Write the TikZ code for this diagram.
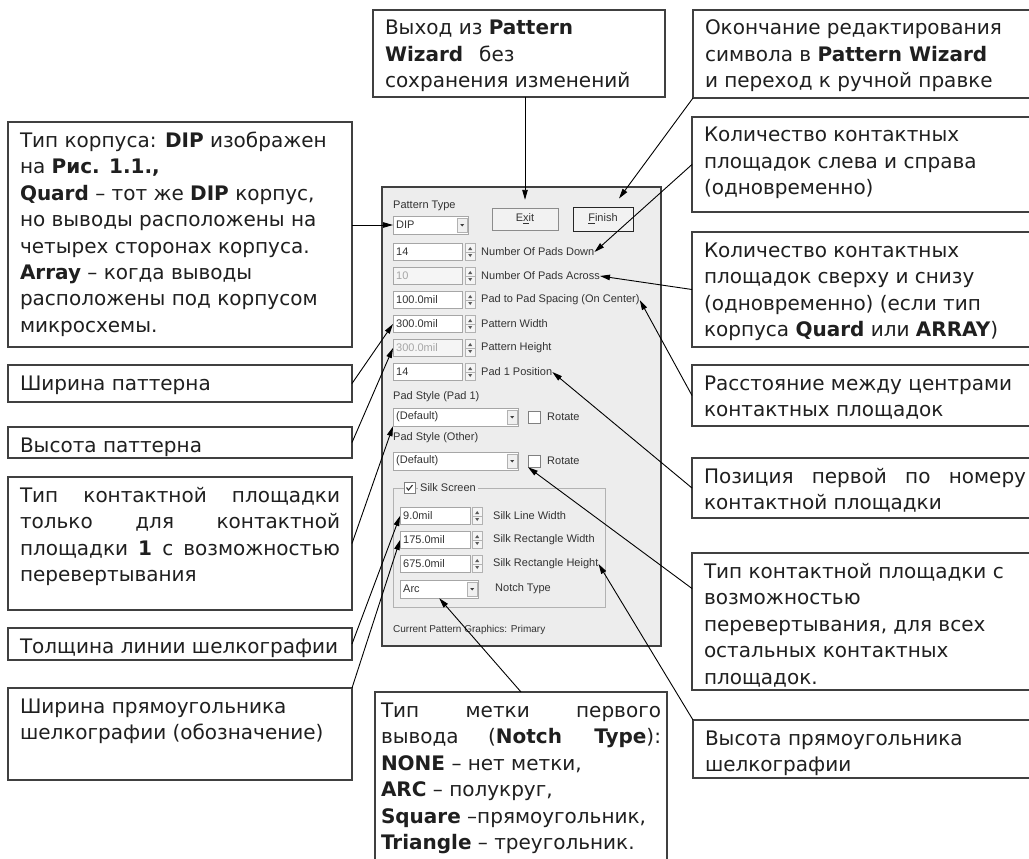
\documentclass[tikz,border=0pt]{standalone}
\usepackage{fontspec}
\newfontfamily\notefont{DejaVu Sans}
\newfontfamily\dlgfont{Liberation Sans}
\usetikzlibrary{arrows.meta}
\tikzset{>/.tip={Triangle[length=10pt,width=5.5pt]}}
\newcommand{\notetext}[3]{\parbox[t][#2][t]{#1}{\raggedright\rule{0pt}{25pt}#3}}
\newcommand{\fillline}[1]{\makebox[\linewidth][s]{#1}}
\tikzset{
  note/.style={draw=black!75, line width=2.2pt, fill=white, anchor=north west,
    inner xsep=12pt, inner ysep=0pt, outer sep=0pt, text=black!88,
    font=\notefont\fontsize{20}{26.5}\selectfont},
  dlg/.style={font=\dlgfont\fontsize{11}{12}\selectfont, text=black!80, inner sep=0pt, anchor=west},
  field/.style={dlg, draw=black!35, fill=white, minimum height=17pt, text width=#1,
    inner xsep=3pt, align=left},
  disabled/.style={fill=black!4, text=black!35},
  combo/.style={field=#1, minimum height=18pt, path picture={
    \filldraw[draw=black!30, fill=black!6] ([xshift=-11pt,yshift=-7pt]path picture bounding box.east)
      rectangle ([xshift=-1pt,yshift=7pt]path picture bounding box.east);
    \fill[black!75] ([xshift=-8pt,yshift=1pt]path picture bounding box.east) -- ++(4pt,0pt) -- ++(-2pt,-2.5pt) -- cycle;}},
  spin/.style={draw=black!30, fill=black!4, minimum width=10pt, minimum height=17pt,
    inner sep=0pt, anchor=west, path picture={
    \draw[black!30] (path picture bounding box.west) -- (path picture bounding box.east);
    \fill[black!65] ([xshift=-2pt,yshift=2pt]path picture bounding box.center) -- ++(4pt,0pt) -- ++(-2pt,3pt) -- cycle;
    \fill[black!65] ([xshift=-2pt,yshift=-2pt]path picture bounding box.center) -- ++(4pt,0pt) -- ++(-2pt,-3pt) -- cycle;}},
  chk/.style={draw=black!50, fill=white, minimum size=12pt, inner sep=0pt, anchor=west},
  btn/.style={dlg, anchor=center, draw=black!45, fill=black!5, minimum width=66pt, minimum height=22pt},
  callout/.style={->, line width=0.9pt, black}
}

\begin{document}
\begin{tikzpicture}[x=1pt, y=-1pt]
\useasboundingbox (0,0) rectangle (1029,859);
\clip (0,0) rectangle (1029,859);
\fill[white] (0,0) rectangle (1029,859);

% dialog window
\fill[black!7] (382,187) rectangle (661,646);
\draw[black!75, line width=2.2pt] (382,187) rectangle (661,646);

\node[dlg] (lblType) at (393,206) {Pattern Type};
\node[combo=69pt] (dipbox) at (393,225) {DIP};
\node[btn] (exitbtn) at (525,219) {E\underline{x}it};
\node[btn, minimum width=60pt, minimum height=24pt, draw=black!85, line width=1pt] (finbtn) at (603,219) {\underline{F}inish};

\node[field=63pt] (fDown) at (393,252) {14};
\node[spin] (sDown) at (465,252) {};
\node[dlg] (lblDown) at (481,252) {Number Of Pads Down};
\node[field=63pt, disabled] (fAcross) at (393,276) {10};
\node[spin] (sAcross) at (465,276) {};
\node[dlg] (lblAcross) at (481,276) {Number Of Pads Across};
\node[field=63pt] (fSpace) at (393,300) {100.0mil};
\node[spin] (sSpace) at (465,300) {};
\node[dlg] (lblSpacing) at (481,300) {Pad to Pad Spacing (On Center)};
\node[field=63pt] (fW) at (393,324) {300.0mil};
\node[spin] (sW) at (465,324) {};
\node[dlg] (lblW) at (481,324) {Pattern Width};
\node[field=63pt, disabled] (fH) at (393,348) {300.0mil};
\node[spin] (sH) at (465,348) {};
\node[dlg] (lblH) at (481,348) {Pattern Height};
\node[field=63pt] (fPos) at (393,372) {14};
\node[spin] (sPos) at (465,372) {};
\node[dlg] (lblPos) at (481,372) {Pad 1 Position};

\node[dlg] (lblPad1) at (393,397) {Pad Style (Pad 1)};
\node[combo=119pt] (combo1) at (393,417) {(Default)};
\node[chk] (chk1) at (528,417) {};
\node[dlg] (lblRot1) at (547,417) {Rotate};
\node[dlg] (lblOther) at (393,438) {Pad Style (Other)};
\node[combo=119pt] (combo2) at (393,461) {(Default)};
\node[chk] (chk2) at (528,461) {};
\node[dlg] (lblRot2) at (547,461) {Rotate};

% silk screen group
\draw[black!30, line width=0.6pt] (393,488) rectangle (605,607);
\node[chk, minimum size=11pt] (chkSilk) at (404,488) {};
\draw[black!80, line width=1.1pt] ([xshift=2.5pt,yshift=0.5pt]chkSilk.west) -- ([xshift=4.5pt,yshift=-2pt]chkSilk.west) -- ([xshift=8.5pt,yshift=3pt]chkSilk.west);
\node[dlg, fill=black!7, inner xsep=2pt] (lblSilk) at (418,488) {Silk Screen};
\node[field=64pt] (fSL) at (400,516) {9.0mil};
\node[spin] (sSL) at (472,516) {};
\node[dlg] (lblSL) at (493,516) {Silk Line Width};
\node[field=64pt] (fSW) at (400,540) {175.0mil};
\node[spin] (sSW) at (472,540) {};
\node[dlg] (lblSW) at (493,540) {Silk Rectangle Width};
\node[field=64pt] (fSH) at (400,564) {675.0mil};
\node[spin] (sSH) at (472,564) {};
\node[dlg] (lblSH) at (493,564) {Silk Rectangle Height};
\node[combo=72pt] (notchbox) at (400,589) {Arc};
\node[dlg] (lblNotch) at (495,589) {Notch Type};
\node[dlg, font=\dlgfont\fontsize{10}{12}\selectfont] (lblCur) at (393,630) {Current Pattern Graphics: Primary};

% notes, top and right
\node[note] (exitnote) at (373,10) {\notetext{268pt}{87pt}{Выход из \textbf{Pattern}\\ \textbf{Wizard}\hspace{16pt}без\\ сохранения изменений}};
\node[note] (finnote) at (693,10) {\notetext{330pt}{88pt}{Окончание редактирования\\ символа в \textbf{Pattern Wizard}\\ и переход к ручной правке}};
\node[note] (downnote) at (692,117) {\notetext{330pt}{95pt}{Количество контактных\\ площадок слева и справа\\ (одновременно)}};
\node[note] (acrossnote) at (692,232) {\notetext{330pt}{115pt}{Количество контактных\\ площадок сверху и снизу\\ (одновременно) (если тип\\ корпуса \textbf{Quard} или \textbf{ARRAY})}};
\node[note] (spacenote) at (692,365) {\notetext{330pt}{61pt}{Расстояние между центрами\\ контактных площадок}};
\node[note] (posnote) at (692,458) {\notetext{322pt}{60pt}{\fillline{Позиция первой по номеру}\\ контактной площадки}};
\node[note] (othernote) at (692,553) {\notetext{330pt}{137pt}{Тип контактной площадки с\\ возможностью\\ перевертывания, для всех\\ остальных контактных\\ площадок.}};
\node[note] (silkhnote) at (693,720) {\notetext{330pt}{58pt}{Высота прямоугольника\\ шелкографии}};

% notes, left
\node[note] (typenote) at (8,122) {\notetext{320pt}{225pt}{Тип корпуса: \textbf{DIP} изображен\\ на \textbf{Рис. 1.1.,}\\ \textbf{Quard} – тот же \textbf{DIP} корпус,\\ но выводы расположены на\\ четырех сторонах корпуса.\\ \textbf{Array} – когда выводы\\ расположены под корпусом\\ микросхемы.}};
\node[note] (widthnote) at (8,365) {\notetext{320pt}{37pt}{Ширина паттерна}};
\node[note] (heightnote) at (8,427) {\notetext{320pt}{31pt}{Высота паттерна}};
\node[note] (pad1note) at (8,477) {\notetext{320pt}{133pt}{\fillline{Тип контактной площадки}\\ \fillline{только для контактной}\\ \fillline{площадки \textbf{1} с возможностью}\\ перевертывания}};
\node[note] (linenote) at (8,628) {\notetext{320pt}{32pt}{Толщина линии шелкографии}};
\node[note] (rectwnote) at (8,688) {\notetext{320pt}{92pt}{Ширина прямоугольника\\ шелкографии (обозначение)}};

% note, bottom
\node[note, inner xsep=6pt] (notchnote) at (375,692) {\notetext{280pt}{178pt}{\fillline{Тип метки первого}\\ \fillline{вывода (\textbf{Notch Type}):}\\ \textbf{NONE} – нет метки,\\ \textbf{ARC} – полукруг,\\ \textbf{Square} –прямоугольник,\\ \textbf{Triangle} – треугольник.}};

% callouts
\path[callout] (exitbtn.north |- exitnote.south) edge[shorten >=8pt] (exitbtn.north);
\path[callout] (finnote.south west) edge ([xshift=16pt,yshift=8pt]finbtn.north);
\path[callout] (downnote.west) edge (lblDown.east);
\path[callout] (acrossnote.west) edge (lblAcross.east);
\path[callout] (spacenote.west) edge (lblSpacing.east);
\path[callout] (posnote.west) edge (lblPos.east);
\path[callout] ([yshift=33pt]othernote.west) edge (chk2.south west);
\path[callout] (silkhnote.north west) edge (lblSH.east);
\path[callout] (notchnote.north) edge (notchbox.south);
\path[callout] (typenote.east |- dipbox.west) edge (dipbox.west);
\path[callout] (widthnote.east) edge (fW.west);
\path[callout] (heightnote.east) edge (fH.west);
\path[callout] (pad1note.east) edge (combo1.south west);
\path[callout] (linenote.east) edge (fSL.west);
\path[callout] (rectwnote.north east) edge (fSW.west);
\end{tikzpicture}
\end{document}
